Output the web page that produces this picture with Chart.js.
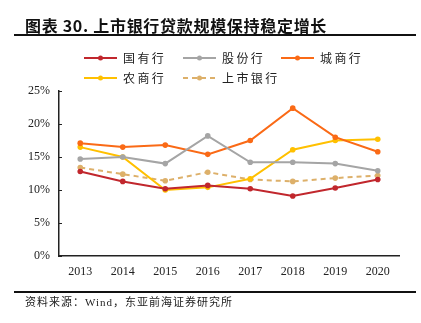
<!DOCTYPE html>
<html>
<head>
<meta charset="utf-8">
<script src="https://cdn.jsdelivr.net/npm/chart.js@4/dist/chart.umd.min.js"></script>
<style>
  html, body { margin: 0; padding: 0; background: #fff; }
  #wrap { position: relative; width: 421px; height: 323px; overflow: hidden; }
  #c { position: absolute; left: 0; top: 0; }
  .title {
    position: absolute; left: 25px; top: 15px; height: 20px; line-height: 20px;
    font-family: "Noto Sans CJK SC", "Liberation Sans", sans-serif;
    font-size: 16px; font-weight: bold; color: #111; white-space: nowrap;
    letter-spacing: 0.7px;
  }
  .rule { position: absolute; left: 14px; width: 402px; background: #111; }
  .source {
    position: absolute; left: 25px; top: 295px; line-height: 14px;
    font-family: "Liberation Serif", "Noto Sans CJK SC", serif;
    font-size: 11px; color: #222; white-space: nowrap; letter-spacing: 1px;
  }
</style>
</head>
<body>
<div id="wrap">
  <canvas id="c" width="421" height="323"></canvas>
  <div class="title">图表 30. 上市银行贷款规模保持稳定增长</div>
  <div class="rule" style="top:34px;height:2px;"></div>
  <div class="rule" style="top:291px;height:1.5px;"></div>
  <div class="source">资料来源：Wind，东亚前海证券研究所</div>
</div>
<script>
// Loan growth by bank type, % year on year
const years = ['2013', '2014', '2015', '2016', '2017', '2018', '2019', '2020'];
const stateOwned   = [12.8, 11.3, 10.2, 10.7, 10.2, 9.1, 10.3, 11.6];   // 国有行
const jointStock   = [14.7, 15.0, 14.0, 18.2, 14.2, 14.2, 14.0, 12.9];  // 股份行
const cityBanks    = [17.1, 16.5, 16.8, 15.4, 17.5, 22.4, 18.0, 15.8];  // 城商行
const ruralBanks   = [16.5, 15.0, 10.0, 10.4, 11.7, 16.1, 17.5, 17.7];  // 农商行
const listedBanks  = [13.4, 12.4, 11.4, 12.7, 11.6, 11.3, 11.8, 12.2];  // 上市银行
const yTicks = [0, 5, 10, 15, 20, 25];

const serif = '"Liberation Serif", "Times New Roman", serif';
const cjk = '"Noto Sans CJK SC", sans-serif';

function series(label, data, color, dash) {
  return {
    label, data,
    borderColor: color, backgroundColor: color,
    borderWidth: 2, borderDash: dash || [],
    pointRadius: 2.8, pointHoverRadius: 2.8,
    pointBackgroundColor: color, pointBorderWidth: 0,
    tension: 0, fill: false
  };
}

// Two-row legend: a short line with a dot, then the series name
const lineLegend = {
  id: 'lineLegend',
  afterDraw(chart) {
    const ctx = chart.ctx;
    const slots = [
      { x: 84, y: 58 }, { x: 183, y: 58 }, { x: 281, y: 58 },
      { x: 84, y: 78 }, { x: 183, y: 78 }
    ];
    chart.data.datasets.forEach((ds, i) => {
      const s = slots[i];
      ctx.save();
      ctx.strokeStyle = ds.borderColor;
      ctx.lineWidth = 2;
      ctx.setLineDash(ds.borderDash || []);
      ctx.beginPath();
      ctx.moveTo(s.x, s.y);
      ctx.lineTo(s.x + 33, s.y);
      ctx.stroke();
      ctx.setLineDash([]);
      ctx.fillStyle = ds.borderColor;
      ctx.beginPath();
      ctx.arc(s.x + 16.5, s.y, 2.5, 0, Math.PI * 2);
      ctx.fill();
      ctx.fillStyle = '#222';
      ctx.font = '12px ' + cjk;
      ctx.textBaseline = 'middle';
      ctx.textAlign = 'left';
      const text = ds.label.split('').join('\u2009');
      ctx.fillText(text, s.x + 39, s.y);
      ctx.restore();
    });
  }
};

new Chart(document.getElementById('c'), {
  type: 'line',
  data: {
    labels: years,
    datasets: [
      series('国有行', stateOwned, '#C1272D'),
      series('股份行', jointStock, '#A5A5A5'),
      series('城商行', cityBanks, '#FA6A16'),
      series('农商行', ruralBanks, '#FFC000'),
      series('上市银行', listedBanks, '#DDB06A', [5, 4])
    ]
  },
  options: {
    responsive: false,
    animation: false,
    layout: { padding: { left: 0, right: 22, top: 91, bottom: 0 } },
    plugins: { legend: { display: false }, tooltip: { enabled: false } },
    scales: {
      x: {
        offset: true,
        grid: { display: false, drawTicks: false },
        border: { display: true, color: '#222', width: 1.5 },
        ticks: { color: '#222', font: { family: serif, size: 12 }, padding: 9, maxRotation: 0 },
        afterFit(scale) { scale.height = 67; }
      },
      y: {
        min: 0, max: 25,
        afterBuildTicks(scale) { scale.ticks = yTicks.map(v => ({ value: v })); },
        grid: { drawOnChartArea: false, drawTicks: true, tickLength: -3, color: '#222', lineWidth: 1 },
        border: { display: true, color: '#222', width: 1.5 },
        ticks: {
          color: '#222', font: { family: serif, size: 12 }, padding: 12,
          callback: v => v + '%'
        },
        afterFit(scale) { scale.width = 59; }
      }
    }
  },
  plugins: [lineLegend]
});
</script>
</body>
</html>
